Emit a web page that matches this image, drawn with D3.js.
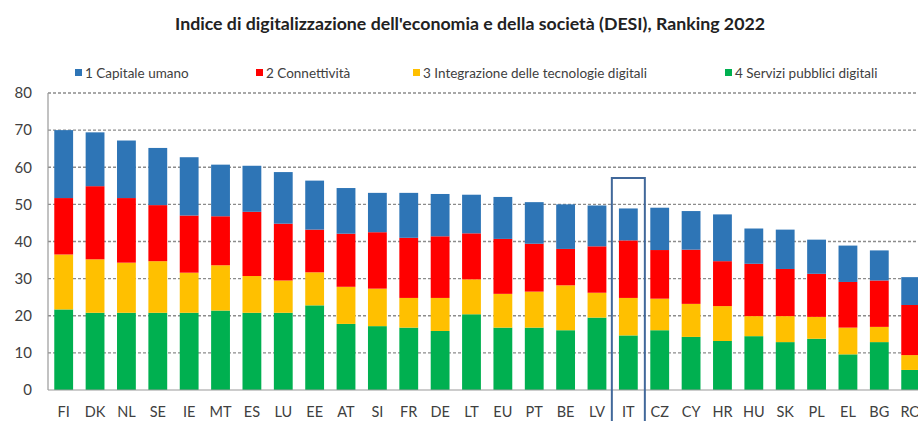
<!DOCTYPE html>
<html>
<head>
<meta charset="utf-8">
<script src="https://cdn.jsdelivr.net/npm/d3@7"></script>
<style>
	body { margin: 0; background: #fff; overflow: hidden; }
	svg { display: block; font-family: Lato, "Open Sans", sans-serif; }
</style>
</head>
<body>
<div id="chart"></div>
<script>
var countries = ["FI", "DK", "NL", "SE", "IE", "MT", "ES", "LU", "EE", "AT", "SI", "FR", "DE", "LT", "EU", "PT", "BE", "LV", "IT", "CZ", "CY", "HR", "HU", "SK", "PL", "EL", "BG", "RO"];

// valori per dimensione (punteggio ponderato)
var servizi = [21.7, 20.8, 20.8, 20.8, 20.8, 21.4, 20.8, 20.8, 22.8, 17.8, 17.2, 16.8, 15.9, 20.4, 16.8, 16.8, 16.1, 19.5, 14.7, 16.1, 14.3, 13.2, 14.5, 12.9, 13.8, 9.6, 12.9, 5.4];
var integrazione = [14.8, 14.4, 13.5, 13.9, 10.8, 12.2, 9.9, 8.7, 8.9, 10.0, 10.1, 8.0, 8.9, 9.4, 9.1, 9.7, 12.1, 6.7, 10.1, 8.5, 8.9, 9.4, 5.4, 7.0, 5.9, 7.2, 4.1, 4.0];
var connettivita = [15.2, 19.7, 17.4, 15.1, 15.4, 13.2, 17.3, 15.3, 11.5, 14.3, 15.2, 16.2, 16.6, 12.4, 14.8, 12.9, 9.8, 12.5, 15.5, 13.1, 14.6, 12.1, 14.1, 12.7, 11.6, 12.3, 12.5, 13.5];
var capitale = [18.3, 14.5, 15.5, 15.4, 15.7, 13.9, 12.4, 13.9, 13.2, 12.3, 10.6, 12.1, 11.4, 10.4, 11.3, 11.2, 12.0, 11.0, 8.6, 11.4, 10.4, 12.6, 9.5, 10.6, 9.2, 9.8, 8.1, 7.5];

var seriesNames = ["1 Capitale umano", "2 Connettività", "3 Integrazione delle tecnologie digitali", "4 Servizi pubblici digitali"];
var yTicks = [0, 10, 20, 30, 40, 50, 60, 70, 80];
var highlight = "IT";

var width = 918, height = 421;
var margin = {top: 93, left: 48, bottom: 31};

var svg = d3.select("#chart").append("svg")
	.attr("width", width)
	.attr("height", height);

svg.append("text")
	.attr("x", 470)
	.attr("y", 30)
	.attr("text-anchor", "middle")
	.attr("textLength", 590)
	.attr("lengthAdjust", "spacingAndGlyphs")
	.style("font-size", "17px")
	.style("font-weight", "bold")
	.style("fill", "#222")
	.text("Indice di digitalizzazione dell'economia e della società (DESI), Ranking 2022");

var keys = ["servizi", "integrazione", "connettivita", "capitale"];
var colors = {servizi: "#00b050", integrazione: "#ffc000", connettivita: "#ff0000", capitale: "#2e75b6"};

var data = countries.map((c, i) => ({
	country: c,
	servizi: servizi[i],
	integrazione: integrazione[i],
	connettivita: connettivita[i],
	capitale: capitale[i]
}));

var x = d3.scaleBand()
	.domain(countries)
	.range([margin.left, margin.left + countries.length * 31.37])
	.paddingInner(0.4)
	.paddingOuter(0.2);

var y = d3.scaleLinear()
	.domain([0, 80])
	.range([height - margin.bottom, margin.top]);

// griglia tratteggiata
svg.append("g")
	.selectAll("line")
	.data(yTicks.filter(d => d > 0))
	.enter()
	.append("line")
	.attr("x1", margin.left)
	.attr("x2", width)
	.attr("y1", d => y(d))
	.attr("y2", d => y(d))
	.style("stroke", "#8c8c8c")
	.style("stroke-width", 1.3)
	.style("stroke-dasharray", "3,2");

var stack = d3.stack().keys(keys);
var layers = stack(data);

svg.append("g")
	.selectAll("g")
	.data(layers)
	.enter()
	.append("g")
	.style("fill", d => colors[d.key])
	.selectAll("rect")
	.data(d => d)
	.enter()
	.append("rect")
	.attr("x", d => x(d.data.country))
	.attr("width", x.bandwidth())
	.attr("y", d => y(d[1]))
	.attr("height", d => y(d[0]) - y(d[1]));

// assi
svg.append("line")
	.attr("x1", margin.left).attr("x2", margin.left)
	.attr("y1", y(80)).attr("y2", y(0))
	.style("stroke", "#999").style("stroke-width", 1.2);
svg.append("line")
	.attr("x1", margin.left).attr("x2", width)
	.attr("y1", y(0)).attr("y2", y(0))
	.style("stroke", "#999").style("stroke-width", 1.2);

svg.append("g")
	.selectAll("text")
	.data(yTicks)
	.enter()
	.append("text")
	.attr("x", 32)
	.attr("y", d => y(d))
	.attr("dy", "0.35em")
	.attr("text-anchor", "end")
	.style("font-size", "15px")
	.style("fill", "#404040")
	.text(d => d);

svg.append("g")
	.selectAll("text")
	.data(countries)
	.enter()
	.append("text")
	.attr("x", d => x(d) + x.bandwidth() / 2)
	.attr("y", 412)
	.attr("dy", "0.35em")
	.attr("text-anchor", "middle")
	.style("font-size", "14.5px")
	.style("fill", "#404040")
	.text(d => d);

// riquadro Italia
svg.append("rect")
	.attr("x", x(highlight) + x.bandwidth() / 2 - 16.5)
	.attr("y", 178)
	.attr("width", 33)
	.attr("height", 260)
	.style("fill", "none")
	.style("stroke", "#41689a")
	.style("stroke-width", 2);

// legenda
var legendX = [75, 256, 413, 725];
var legendKeys = ["capitale", "connettivita", "integrazione", "servizi"];
var legend = svg.append("g")
	.selectAll("g")
	.data(seriesNames)
	.enter()
	.append("g")
	.attr("transform", (d, i) => `translate(${legendX[i]}, 73)`);

legend.append("rect")
	.attr("x", 0)
	.attr("y", -4)
	.attr("width", 7)
	.attr("height", 7)
	.style("fill", (d, i) => colors[legendKeys[i]]);

legend.append("text")
	.attr("x", 10)
	.attr("dy", "0.35em")
	.style("font-size", "13.5px")
	.style("fill", "#404040")
	.text(d => d);
</script>
</body>
</html>
